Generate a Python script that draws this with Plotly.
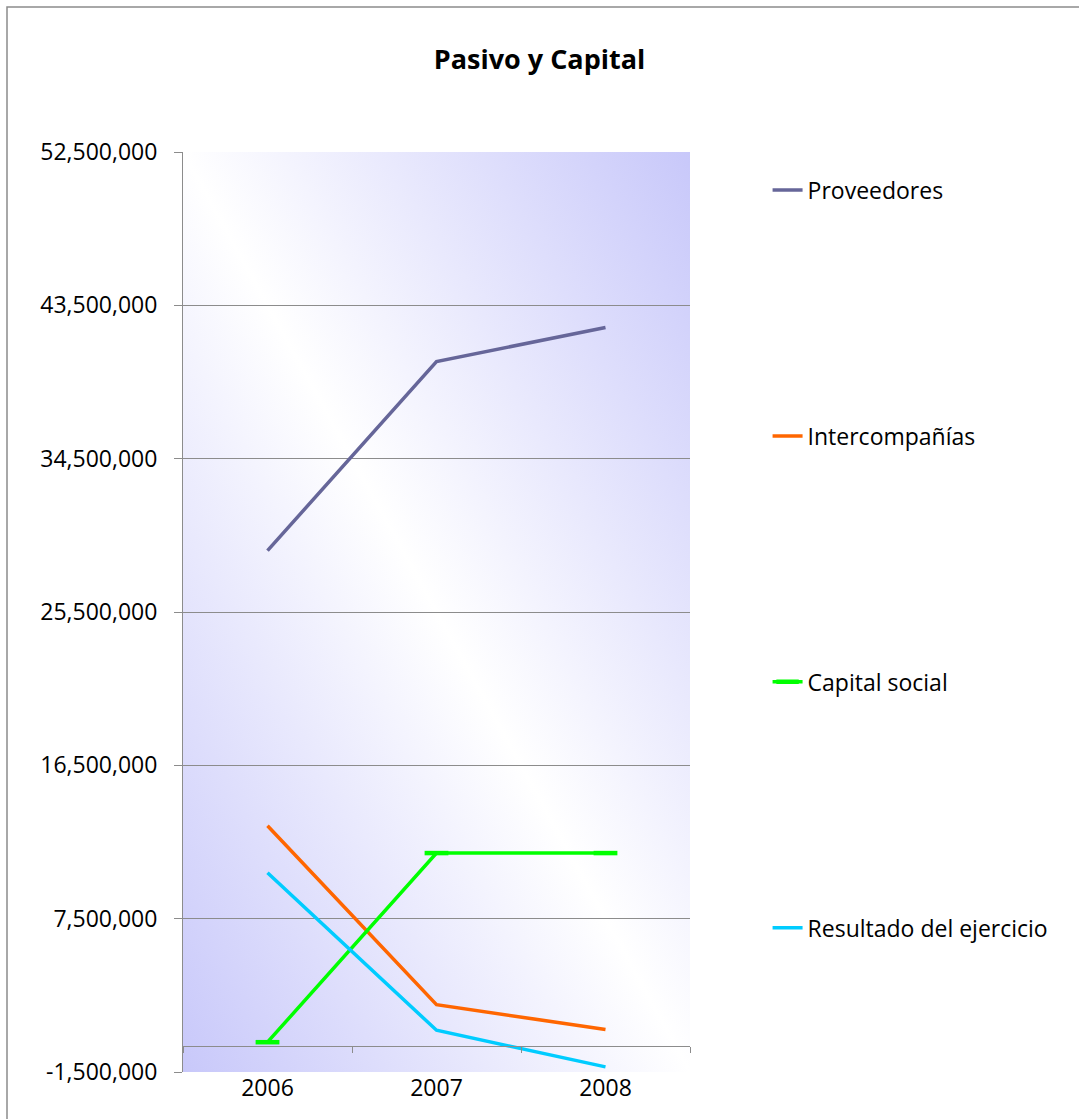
import base64
import plotly.graph_objects as go

# Balance-sheet series (pesos)
years = ["2006", "2007", "2008"]
proveedores = [29100000, 40200000, 42200000]
intercompanias = [12950000, 2450000, 1000000]
capital_social = [250000, 11350000, 11350000]
resultado_ejercicio = [10200000, 950000, -1200000]

y_ticks = [-1500000, 7500000, 16500000, 25500000, 34500000, 43500000, 52500000]
y_tick_text = [f"{v:,}" for v in y_ticks]  # plain hyphen for negatives

FONT = "Open Sans"
GRID = "#8c8c8c"

fig = go.Figure()

series = [
    ("Proveedores", proveedores, "#666699", None),
    ("Intercompañías", intercompanias, "#ff6600", None),
    ("Capital social", capital_social, "#00ff00", "line-ew"),
    ("Resultado del ejercicio", resultado_ejercicio, "#00ccff", None),
]
for name, vals, color, sym in series:
    kw = dict(mode="lines")
    if sym:
        kw = dict(mode="lines+markers",
                  marker=dict(symbol=sym, size=17, line=dict(color=color, width=4.5), color=color))
    fig.add_trace(go.Scatter(x=years, y=vals, name=name, legendgroup=name,
                             line=dict(color=color, width=3.5), **kw))

# diagonal lavender-white-lavender fill for the plotting area
svg = (
    '<svg xmlns="http://www.w3.org/2000/svg" width="100" height="100" viewBox="0 0 100 100" '
    'preserveAspectRatio="none"><defs><linearGradient id="g" x1="0" y1="1" x2="1" y2="0">'
    '<stop offset="0" stop-color="#c8c8fa"/><stop offset="0.5" stop-color="#ffffff"/>'
    '<stop offset="1" stop-color="#c8c8fa"/></linearGradient></defs>'
    '<rect width="100" height="100" fill="url(#g)"/></svg>'
)
bg_uri = "data:image/svg+xml;base64," + base64.b64encode(svg.encode()).decode()

y_min, y_max = y_ticks[0], y_ticks[-1]
zero_pos = (0 - y_min) / (y_max - y_min)

fig.update_layout(
    width=1079, height=1119,
    margin=dict(l=183, r=389, t=152, b=47),
    paper_bgcolor="white",
    plot_bgcolor="rgba(0,0,0,0)",
    font=dict(family=FONT, size=23, color="black"),
    title=dict(text="<b>Pasivo y Capital</b>", x=0.5, xref="container", xanchor="center",
               y=1 - 60 / 1119, yref="container", yanchor="middle",
               font=dict(family=FONT, size=27, color="black")),
    showlegend=True,
    legend=dict(x=1.153, xanchor="left", y=0.982, yanchor="top",
                tracegroupgap=213, font=dict(family=FONT, size=23),
                bgcolor="rgba(0,0,0,0)"),
    images=[dict(source=bg_uri, xref="x domain", yref="y domain", x=0, y=1,
                 sizex=1, sizey=1, sizing="stretch", layer="below", xanchor="left", yanchor="top")],
    xaxis=dict(type="category", range=[-0.5, 2.5], showgrid=False, showline=False,
               ticks="", tickfont=dict(size=23), zeroline=False),
    xaxis2=dict(type="category", range=[-0.5, 2.5], overlaying="x", anchor="free",
                position=zero_pos, side="bottom", showline=True, linecolor=GRID, linewidth=1,
                ticks="outside", tickson="boundaries", ticklen=6, tickcolor=GRID,
                showticklabels=False, showgrid=False, matches="x"),
    yaxis=dict(range=[y_min, y_max], tickvals=y_ticks, ticktext=y_tick_text,
               showgrid=True, gridcolor=GRID, gridwidth=1, zeroline=False,
               showline=True, linecolor=GRID, linewidth=1,
               ticks="outside", ticklen=8, tickcolor=GRID, tickfont=dict(size=23),
               ticklabelstandoff=12),
    shapes=[dict(type="rect", xref="paper", yref="paper",
                 x0=(7 - 183) / 507, x1=(1090 - 183) / 507,
                 y0=(1072 - 1130) / 920, y1=(1072 - 7) / 920,
                 line=dict(color="#8c8c8c", width=1.5), fillcolor="rgba(0,0,0,0)", layer="above")],
)

# invisible trace so the zero-level category axis is drawn
fig.add_trace(go.Scatter(x=years, y=[None] * 3, xaxis="x2", showlegend=False, hoverinfo="skip"))

fig.write_html("out.html")
